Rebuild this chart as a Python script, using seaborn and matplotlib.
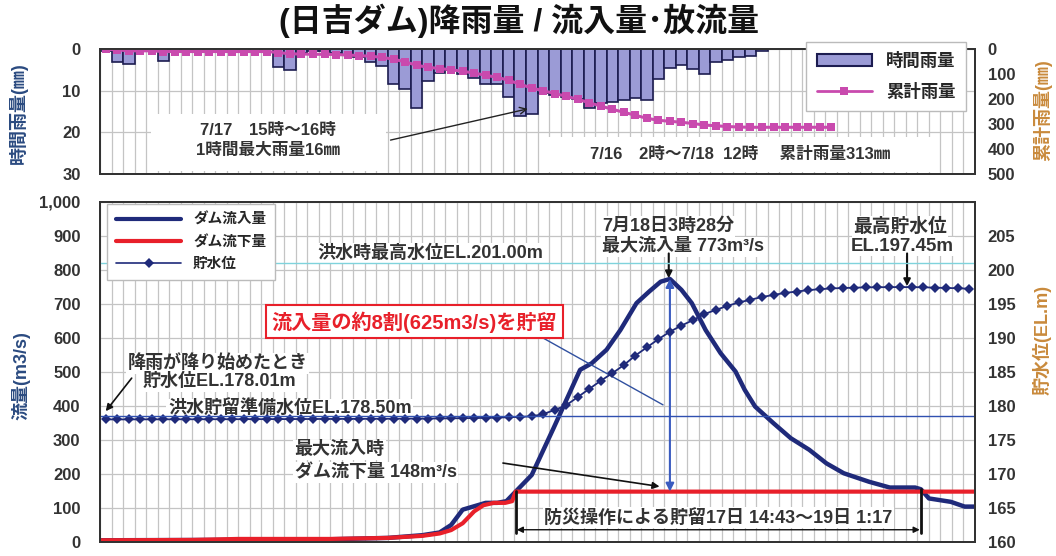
import numpy as np
import matplotlib
matplotlib.use("Agg")
import matplotlib.pyplot as plt
from matplotlib.patches import Rectangle, Patch
from matplotlib.lines import Line2D
from matplotlib.ticker import FuncFormatter
import seaborn as sns

# hourly rainfall from 7/16 2時 (mm)
rain_mm = [0.5, 3.0, 3.6, 0, 0, 2.9, 0, 0, 0, 0, 0, 0, 0, 0, 0,
           4.2, 5.1, 1.0, 0.5, 0.5, 1.0, 1.5, 2.0, 3.0, 4.0, 8.4, 9.6, 14.1, 7.7,
           5.8, 5.0, 6.0, 6.9, 8.4, 8.4, 11.6, 16.0, 15.5, 10.5, 11.0, 11.5, 12.0,
           14.2, 13.0, 12.8, 12.2, 11.8, 12.2, 7.3, 4.5, 3.9, 4.8, 5.9, 3.2, 2.7,
           1.8, 1.6, 0.4]
# cumulative rainfall (mm)
cum_rain_mm = [0.5, 3.5, 7.1, 7.1, 7.1, 10, 10, 10, 10, 10, 10, 10, 10, 10, 10,
               14, 19, 20, 21, 21, 22, 24, 26, 29, 33, 41, 51, 65, 73, 78, 83, 89,
               96, 105, 113, 125, 141, 156, 167, 178, 189, 201, 215, 228, 241, 253,
               265, 277, 285, 289, 293, 298, 304, 307, 310, 312, 313, 313, 313, 313,
               313, 313, 313, 313]
# reservoir level, hourly (EL.m)
level_el = [178.01, 178.01, 178.01, 178.02, 178.02, 178.02, 178.03, 178.03, 178.03, 178.04,
            178.04, 178.04, 178.05, 178.05, 178.05, 178.06, 178.06, 178.07, 178.07, 178.08,
            178.08, 178.09, 178.09, 178.10, 178.10, 178.11, 178.12, 178.13, 178.14, 178.15,
            178.17, 178.19, 178.21, 178.24, 178.28, 178.33, 178.39, 178.46, 178.8, 179.4,
            180.1, 181.3, 182.5, 183.7, 184.8, 186.0, 187.4, 188.6, 189.8, 190.9,
            191.8, 192.6, 193.5, 194.1, 194.7, 195.2, 195.6, 196.0, 196.3, 196.6,
            196.8, 197.0, 197.15, 197.25, 197.32, 197.37, 197.41, 197.43, 197.45, 197.45,
            197.45, 197.42, 197.38, 197.33, 197.28, 197.22]
# inflow / outflow (hours after 7/16 2時, m3/s)
inflow_hour = [0, 10, 20, 25, 28, 29.5, 30.5, 31.5, 32.5, 33.5, 34.5, 35.3, 36.1, 37.5, 39.4,
               41.7, 42.7, 44.0, 45.2, 46.6, 47.7, 48.7, 49.5, 50.5, 51.4, 52.6, 53.9, 55.2,
               56.0, 56.9, 58.5, 60.0, 61.6, 63.1, 64.6, 66.8, 68.6, 70.8, 71.3, 72.0, 73.9,
               75.1, 76.0]
inflow_cms = [5, 6, 8, 12, 20, 28, 50, 95, 105, 115, 115, 120, 148, 197, 335,
              506, 525, 565, 623, 702, 736, 765, 773, 741, 702, 623, 555, 501,
              447, 398, 349, 305, 271, 231, 202, 177, 160, 160, 155, 128, 118,
              104, 104]
outflow_hour = [0, 8, 12, 20, 25, 28, 29.5, 30.5, 31.5, 32.5, 33.3, 34.2, 35.2, 35.8, 36.1, 76.0]
outflow_cms = [5, 6, 9, 9, 12, 18, 25, 35, 55, 90, 108, 115, 115, 120, 148, 148]

n_slots = 76
rain_x = np.arange(len(rain_mm)) + 0.5
cum_x = np.arange(len(cum_rain_mm)) + 0.5
level_x = np.arange(len(level_el)) + 0.5

NAVY = "#1f2a7a"
RED = "#e8202a"
LBL_BLUE = "#2a4a80"
LBL_ORANGE = "#c98a3c"
TXT = "#333333"

sns.set_theme(style="white")
plt.rcParams["font.family"] = ["Liberation Sans", "Noto Sans CJK JP", "DejaVu Sans"]
plt.rcParams["font.weight"] = "bold"

fig = plt.figure(figsize=(10.56, 5.56), dpi=100)
ax_r = fig.add_axes([0.0947, 0.687, 0.8286, 0.2248])
ax_c = ax_r.twinx()
ax_q = fig.add_axes([0.0947, 0.0252, 0.8286, 0.612])
ax_h = ax_q.twinx()

# ---- top panel: rainfall ----
sns.barplot(x=rain_x, y=rain_mm, native_scale=True, width=1, color="#9b9bd6",
            edgecolor="#1c1c50", linewidth=1.2, saturation=1, ax=ax_r)
sns.lineplot(x=cum_x, y=cum_rain_mm, ax=ax_c, color="#c94aae", lw=2.2,
             marker="s", markersize=6, markeredgewidth=0)
ax_r.set_xlim(0, n_slots)
ax_r.set_ylim(30, 0)
ax_c.set_ylim(500, 0)
ax_r.set_xticks(np.arange(0, n_slots + 1))
ax_r.set_yticks([0, 10, 20, 30])
ax_c.set_yticks([0, 100, 200, 300, 400, 500])
ax_r.grid(True, color="#c4c4c4", lw=0.9)
ax_r.set_axisbelow(True)
ax_r.tick_params(axis="x", length=0, labelbottom=False)
ax_r.tick_params(axis="y", length=0, pad=14, labelsize=12, labelcolor=TXT)
ax_c.tick_params(axis="y", length=0, pad=9, labelsize=12, labelcolor=TXT)
ax_r.set_xlabel("")
ax_r.set_ylabel("時間雨量(㎜)", color=LBL_BLUE, fontsize=13, fontweight="bold")
ax_c.set_ylabel("累計雨量(㎜)", color=LBL_ORANGE, fontsize=13, fontweight="bold")
ax_r.yaxis.set_label_coords(-0.082, 0.49)
ax_c.yaxis.set_label_coords(1.066, 0.51)

ax_r.add_patch(Rectangle((4.4, 15.7), 20.4, 13.6, facecolor="white", edgecolor="none", zorder=2))
ax_r.text(14.6, 19.6, "7/17　15時～16時", ha="center", va="center", fontsize=12,
          color=TXT, fontweight="bold", zorder=3)
ax_r.text(14.6, 24.4, "1時間最大雨量16㎜", ha="center", va="center", fontsize=12,
          color=TXT, fontweight="bold", zorder=3)
ax_r.annotate("", xy=(37.4, 14.2), xytext=(25.0, 22.0), zorder=3,
              arrowprops=dict(arrowstyle="->", color="#222222", lw=1))
ax_r.add_patch(Rectangle((38.3, 21.0), 34.2, 8.4, facecolor="white", edgecolor="none", zorder=2))
ax_r.text(55.6, 25.2, "7/16　2時～7/18  12時　 累計雨量313㎜", ha="center", va="center",
          fontsize=12, color=TXT, fontweight="bold", zorder=3)

top_handles = [Patch(facecolor="#9b9bd6", edgecolor="#1c1c50", lw=1.5),
               Line2D([], [], color="#c94aae", lw=2, marker="s", markersize=6, markeredgewidth=0)]
ax_c.legend(top_handles, ["時間雨量", "累計雨量"], loc="upper right",
            bbox_to_anchor=(0.9148, 0.9245), bbox_transform=fig.transFigure,
            borderaxespad=0, fontsize=12.5, handlelength=3.2, frameon=True, fancybox=False,
            edgecolor="#bbbbbb", framealpha=1, borderpad=0.6, labelspacing=0.8)

# ---- bottom panel: flow and reservoir level ----
sns.lineplot(x=inflow_hour, y=inflow_cms, ax=ax_q, color=NAVY, lw=3.2, sort=False)
sns.lineplot(x=outflow_hour, y=outflow_cms, ax=ax_q, color=RED, lw=3.0, sort=False)
sns.lineplot(x=level_x, y=level_el, ax=ax_h, color=NAVY, lw=1.3, marker="D",
             markersize=5.5, markeredgewidth=0)
ax_h.axhline(201.0, color="#7fd3dc", lw=1.0)
ax_h.axhline(178.5, color="#3050b0", lw=1.0)

ax_q.set_xlim(0, n_slots)
ax_q.set_ylim(0, 1000)
ax_h.set_ylim(160, 210)
ax_q.set_xticks(np.arange(0, n_slots + 1))
ax_q.set_yticks(np.arange(0, 1001, 100))
ax_h.set_yticks(np.arange(160, 206, 5))
ax_q.yaxis.set_major_formatter(FuncFormatter(lambda v, p: f"{int(v):,}"))
ax_q.grid(True, color="#c4c4c4", lw=0.9)
ax_q.set_axisbelow(True)
ax_q.tick_params(axis="x", length=0, labelbottom=False)
ax_q.tick_params(axis="y", length=0, pad=14, labelsize=12, labelcolor=TXT)
ax_h.tick_params(axis="y", length=0, pad=9, labelsize=12, labelcolor=TXT)
ax_q.set_xlabel("")
ax_q.set_ylabel("流量(m3/s)", color=LBL_BLUE, fontsize=13, fontweight="bold")
ax_h.set_ylabel("貯水位(EL.m)", color=LBL_ORANGE, fontsize=13, fontweight="bold")
ax_q.yaxis.set_label_coords(-0.080, 0.49)
ax_h.yaxis.set_label_coords(1.066, 0.594)

wbox = dict(facecolor="white", edgecolor="none", pad=1)
ax_q.text(18.9, 848, "洪水時最高水位EL.201.00m", ha="left", va="center", fontsize=13,
          color=TXT, bbox=wbox)
ax_q.text(27.3, 647, "流入量の約8割(625m3/s)を貯留", ha="center", va="center", fontsize=14.5,
          color=RED, fontweight="bold",
          bbox=dict(facecolor="white", edgecolor=RED, lw=1.5, pad=4))
ax_q.plot([37.5, 48.9], [618, 403], color="#3050a0", lw=1)
ax_q.annotate("", xy=(49.5, 148), xytext=(49.5, 773),
              arrowprops=dict(arrowstyle="<|-|>", color="#3a5bbf", lw=1.5, mutation_scale=12,
                              shrinkA=0, shrinkB=0))
ax_q.text(2.4, 525, "降雨が降り始めたとき", ha="left", va="center", fontsize=13,
          color=TXT, bbox=wbox)
ax_q.text(3.7, 471, "貯水位EL.178.01m", ha="left", va="center", fontsize=13,
          color=TXT, bbox=wbox)
ax_q.annotate("", xy=(0.35, 378), xytext=(2.9, 488),
              arrowprops=dict(arrowstyle="-|>", color="#111111", lw=1.2, mutation_scale=10))
ax_q.text(5.9, 390, "洪水貯留準備水位EL.178.50m", ha="left", va="center", fontsize=13,
          color=TXT, bbox=wbox)
ax_q.text(16.9, 271, "最大流入時", ha="left", va="center", fontsize=13, color=TXT, bbox=wbox)
ax_q.text(16.9, 204, "ダム流下量 148m³/s", ha="left", va="center", fontsize=13, color=TXT,
          bbox=wbox)
ax_q.annotate("", xy=(48.6, 163), xytext=(35.0, 232),
              arrowprops=dict(arrowstyle="-|>", color="#111111", lw=1.2, mutation_scale=10,
                              shrinkA=0, shrinkB=0))
ax_q.text(43.6, 927, "7月18日3時28分", ha="left", va="center", fontsize=13, color=TXT, bbox=wbox)
ax_q.text(43.6, 868, "最大流入量 773m³/s", ha="left", va="center", fontsize=13, color=TXT,
          bbox=wbox)
ax_q.annotate("", xy=(49.4, 775), xytext=(49.4, 848),
              arrowprops=dict(arrowstyle="-|>", color="#111111", lw=1.5, mutation_scale=10,
                              shrinkA=0, shrinkB=0))
ax_q.text(69.5, 927, "最高貯水位", ha="center", va="center", fontsize=13.5, color=TXT, bbox=wbox)
ax_q.text(69.7, 868, "EL.197.45m", ha="center", va="center", fontsize=13.5, color=TXT, bbox=wbox)
ax_q.annotate("", xy=(70.1, 752), xytext=(70.1, 848),
              arrowprops=dict(arrowstyle="-|>", color="#111111", lw=1.5, mutation_scale=10,
                              shrinkA=0, shrinkB=0))
ax_q.plot([36.1, 36.1], [150, 27], color="#111111", lw=2)
ax_q.plot([71.3, 71.3], [155, 27], color="#111111", lw=2)
ax_q.annotate("", xy=(71.2, 36), xytext=(36.2, 36),
              arrowprops=dict(arrowstyle="<|-|>", color="#111111", lw=1, mutation_scale=9,
                              shrinkA=0, shrinkB=0))
ax_q.text(53.7, 72, "防災操作による貯留17日 14:43～19日 1:17", ha="center", va="center",
          fontsize=13, color=TXT, bbox=wbox)

bot_handles = [Line2D([], [], color=NAVY, lw=3),
               Line2D([], [], color=RED, lw=3),
               Line2D([], [], color=NAVY, lw=1.2, marker="D", markersize=5, markeredgewidth=0)]
ax_h.legend(bot_handles, ["ダム流入量", "ダム流下量", "貯水位"], loc="upper left",
            bbox_to_anchor=(0.008, 0.993), borderaxespad=0, fontsize=10.5, handlelength=4.5,
            frameon=True, fancybox=False, edgecolor="#bbbbbb", framealpha=1,
            borderpad=0.6, labelspacing=0.55)

for a in (ax_r, ax_c, ax_q, ax_h):
    for s in a.spines.values():
        s.set_color("#333333")
        s.set_linewidth(1.4)

fig.text(0.492, 0.962, "(日吉ダム)降雨量 / 流入量･放流量", ha="center", va="center",
         fontsize=23, fontweight="bold", color="#111111")

fig.savefig("out.png", dpi=100)
